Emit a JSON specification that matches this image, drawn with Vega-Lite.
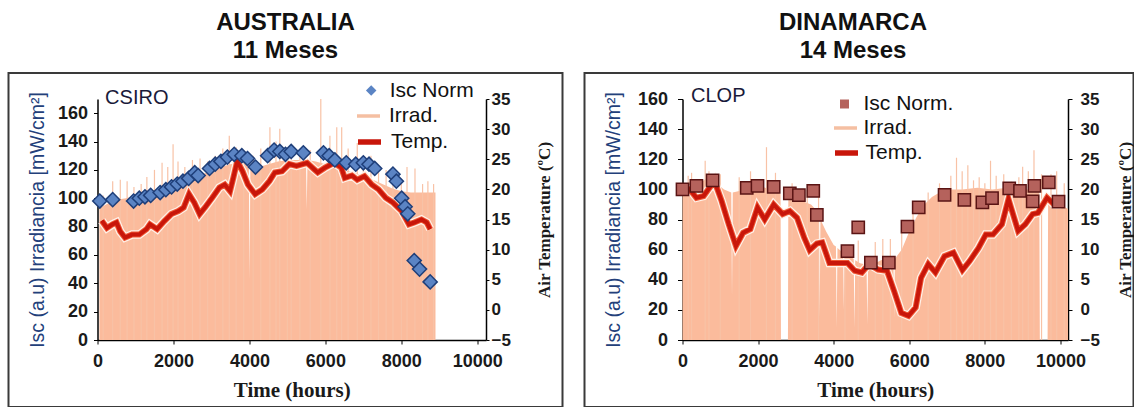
{
"$schema": "https://vega.github.io/schema/vega-lite/v6.json",
"background": "white",
"padding": {"left": 7.5, "top": 10, "right": 0, "bottom": 0},
"spacing": 20,
"config": {"view": {"stroke": "#3a3a3a", "strokeWidth": 2}, "legend": {"padding": 0, "labelFont": "Liberation Sans", "labelFontSize": 21, "labelColor": "#111111", "title": null}},
"resolve": {"scale": {"color": "independent", "stroke": "independent", "shape": "independent", "x": "independent", "y": "independent"}, "legend": {"color": "independent", "stroke": "independent", "shape": "independent"}},
"datasets": {
"aus_irr": [{"h":50,"v":93},{"h":250,"v":96},{"h":500,"v":99},{"h":750,"v":100},{"h":1000,"v":102},{"h":1250,"v":104},{"h":1500,"v":106},{"h":1750,"v":108},{"h":2000,"v":110},{"h":2250,"v":113},{"h":2500,"v":115},{"h":2750,"v":117},{"h":3000,"v":119},{"h":3250,"v":122},{"h":3500,"v":124},{"h":3750,"v":125},{"h":3985,"v":124},{"h":4005,"v":42},{"h":4025,"v":122},{"h":4250,"v":122},{"h":4500,"v":124},{"h":4750,"v":126},{"h":5000,"v":127},{"h":5250,"v":127},{"h":5490,"v":127},{"h":5510,"v":92},{"h":5530,"v":127},{"h":5750,"v":126},{"h":6000,"v":124},{"h":6250,"v":122},{"h":6500,"v":120},{"h":6750,"v":118},{"h":7000,"v":116},{"h":7250,"v":113},{"h":7500,"v":110},{"h":7750,"v":107},{"h":8000,"v":105},{"h":8250,"v":104},{"h":8500,"v":104},{"h":8750,"v":104},{"h":8900,"v":104}],
"aus_spk": [{"h":150,"v":102},{"h":400,"v":112},{"h":600,"v":113},{"h":780,"v":112},{"h":960,"v":108},{"h":1150,"v":110},{"h":1300,"v":115},{"h":1500,"v":120},{"h":1700,"v":125},{"h":1850,"v":122},{"h":1990,"v":138},{"h":2120,"v":126},{"h":2300,"v":122},{"h":2500,"v":127},{"h":2700,"v":128},{"h":2900,"v":126},{"h":3100,"v":130},{"h":3300,"v":135},{"h":3470,"v":144},{"h":3650,"v":136},{"h":3850,"v":132},{"h":4100,"v":130},{"h":4300,"v":135},{"h":4540,"v":150},{"h":4700,"v":140},{"h":4800,"v":149},{"h":5000,"v":135},{"h":5100,"v":138},{"h":5330,"v":132},{"h":5600,"v":134},{"h":5880,"v":170},{"h":6120,"v":144},{"h":6300,"v":150},{"h":6430,"v":150},{"h":6600,"v":135},{"h":6840,"v":139},{"h":7000,"v":128},{"h":7200,"v":130},{"h":7400,"v":122},{"h":7600,"v":120},{"h":7780,"v":117},{"h":8000,"v":114},{"h":8150,"v":122},{"h":8360,"v":121},{"h":8560,"v":110},{"h":8700,"v":112},{"h":8850,"v":110}],
"aus_temp": [{"h":113,"t":14.8},{"h":248,"t":13.6},{"h":395,"t":14.2},{"h":500,"t":14.5},{"h":600,"t":13.0},{"h":723,"t":12.0},{"h":910,"t":12.5},{"h":1100,"t":12.5},{"h":1290,"t":13.4},{"h":1380,"t":14.2},{"h":1570,"t":13.4},{"h":1760,"t":14.75},{"h":1945,"t":15.9},{"h":2130,"t":16.4},{"h":2270,"t":17.0},{"h":2410,"t":19.2},{"h":2550,"t":17.8},{"h":2690,"t":15.9},{"h":2830,"t":17.0},{"h":3020,"t":18.6},{"h":3210,"t":20.3},{"h":3350,"t":20.8},{"h":3490,"t":19.7},{"h":3580,"t":22.0},{"h":3680,"t":24.7},{"h":3820,"t":23.0},{"h":3960,"t":20.8},{"h":4150,"t":19.2},{"h":4340,"t":20.0},{"h":4530,"t":21.4},{"h":4670,"t":22.8},{"h":4860,"t":23.0},{"h":5050,"t":24.2},{"h":5240,"t":23.9},{"h":5520,"t":24.4},{"h":5710,"t":23.3},{"h":5800,"t":22.8},{"h":5990,"t":23.6},{"h":6230,"t":24.4},{"h":6420,"t":23.6},{"h":6510,"t":21.9},{"h":6700,"t":22.3},{"h":6840,"t":21.6},{"h":7030,"t":22.2},{"h":7220,"t":20.8},{"h":7400,"t":20.0},{"h":7590,"t":18.6},{"h":7780,"t":17.8},{"h":8010,"t":16.4},{"h":8200,"t":14.2},{"h":8340,"t":14.5},{"h":8530,"t":15.0},{"h":8670,"t":14.5},{"h":8760,"t":13.4}],
"aus_isc": [{"h":60,"v":98},{"h":400,"v":99},{"h":950,"v":98},{"h":1100,"v":100},{"h":1250,"v":101},{"h":1400,"v":102},{"h":1650,"v":104},{"h":1800,"v":106},{"h":1950,"v":108},{"h":2100,"v":110},{"h":2250,"v":112},{"h":2400,"v":114},{"h":2560,"v":118},{"h":2650,"v":116},{"h":2950,"v":121},{"h":3100,"v":124},{"h":3250,"v":126},{"h":3420,"v":129},{"h":3600,"v":131},{"h":3800,"v":130},{"h":3950,"v":128},{"h":4160,"v":122},{"h":4480,"v":130},{"h":4650,"v":134},{"h":4800,"v":133},{"h":4950,"v":131},{"h":5100,"v":133},{"h":5420,"v":132},{"h":5950,"v":132},{"h":6100,"v":130},{"h":6250,"v":127},{"h":6550,"v":125},{"h":6800,"v":124},{"h":7000,"v":125},{"h":7150,"v":124},{"h":7300,"v":121},{"h":7780,"v":117},{"h":7870,"v":112},{"h":8010,"v":100},{"h":8100,"v":94},{"h":8170,"v":89},{"h":8340,"v":56},{"h":8480,"v":50},{"h":8760,"v":41}],
"aus_lbl": [{"h":200,"v":171,"label":"CSIRO"}],
"dk_irr": [{"h":0,"v":100},{"h":150,"v":104},{"h":300,"v":106},{"h":500,"v":105},{"h":700,"v":108},{"h":900,"v":104},{"h":1100,"v":100},{"h":1290,"v":98},{"h":1310,"v":28},{"h":1330,"v":98},{"h":1500,"v":99},{"h":1700,"v":100},{"h":1900,"v":101},{"h":2100,"v":102},{"h":2300,"v":100},{"h":2500,"v":98},{"h":2595,"v":97},{"h":2605,"v":0},{"h":2790,"v":0},{"h":2800,"v":95},{"h":3000,"v":94},{"h":3200,"v":92},{"h":3400,"v":90},{"h":3550,"v":86},{"h":3610,"v":82},{"h":3630,"v":15},{"h":3650,"v":80},{"h":3800,"v":72},{"h":4000,"v":63},{"h":4060,"v":62},{"h":4080,"v":8},{"h":4100,"v":61},{"h":4250,"v":58},{"h":4270,"v":20},{"h":4290,"v":57},{"h":4400,"v":56},{"h":4530,"v":54},{"h":4550,"v":8},{"h":4570,"v":53},{"h":4700,"v":51},{"h":4870,"v":50},{"h":4890,"v":10},{"h":4910,"v":50},{"h":5100,"v":51},{"h":5250,"v":53},{"h":5400,"v":54},{"h":5580,"v":52},{"h":5600,"v":15},{"h":5620,"v":54},{"h":5800,"v":60},{"h":6000,"v":72},{"h":6200,"v":82},{"h":6400,"v":90},{"h":6600,"v":95},{"h":6800,"v":98},{"h":7000,"v":100},{"h":7400,"v":100},{"h":7800,"v":101},{"h":8200,"v":100},{"h":8600,"v":101},{"h":9000,"v":100},{"h":9440,"v":100},{"h":9455,"v":0},{"h":9660,"v":0},{"h":9675,"v":97},{"h":9800,"v":95},{"h":10000,"v":90},{"h":10200,"v":87}],
"dk_spk": [{"h":150,"v":109},{"h":240,"v":111},{"h":600,"v":119},{"h":700,"v":112},{"h":1000,"v":110},{"h":1500,"v":108},{"h":1800,"v":112},{"h":2222,"v":128},{"h":2460,"v":111},{"h":2900,"v":104},{"h":3300,"v":100},{"h":3600,"v":95},{"h":4300,"v":62},{"h":4650,"v":66},{"h":5100,"v":65},{"h":5300,"v":67},{"h":5500,"v":67},{"h":5800,"v":73},{"h":6100,"v":88},{"h":6500,"v":98},{"h":6800,"v":104},{"h":7100,"v":109},{"h":7250,"v":121},{"h":7400,"v":112},{"h":7550,"v":116},{"h":7700,"v":106},{"h":7850,"v":108},{"h":8000,"v":104},{"h":8150,"v":119},{"h":8300,"v":109},{"h":8500,"v":110},{"h":8700,"v":105},{"h":8900,"v":108},{"h":9000,"v":115},{"h":9150,"v":112},{"h":9300,"v":126},{"h":9500,"v":110},{"h":9750,"v":110},{"h":9900,"v":112},{"h":10100,"v":104}],
"dk_temp": [{"h":0,"t":20.3},{"h":190,"t":20.0},{"h":368,"t":18.6},{"h":558,"t":18.9},{"h":843,"t":21.4},{"h":1034,"t":18.1},{"h":1224,"t":14.2},{"h":1414,"t":10.6},{"h":1604,"t":12.8},{"h":1795,"t":13.4},{"h":1985,"t":17.0},{"h":2175,"t":15.0},{"h":2413,"t":17.5},{"h":2650,"t":15.9},{"h":2840,"t":16.4},{"h":3030,"t":15.3},{"h":3220,"t":12.0},{"h":3365,"t":9.9},{"h":3555,"t":11.0},{"h":3697,"t":11.2},{"h":3887,"t":7.8},{"h":4125,"t":7.8},{"h":4365,"t":7.8},{"h":4555,"t":6.5},{"h":4745,"t":6.2},{"h":4935,"t":7.6},{"h":5173,"t":6.7},{"h":5410,"t":6.5},{"h":5600,"t":3.1},{"h":5790,"t":-0.5},{"h":5980,"t":-1.0},{"h":6170,"t":0.4},{"h":6312,"t":5.3},{"h":6502,"t":7.6},{"h":6692,"t":6.2},{"h":6930,"t":8.9},{"h":7170,"t":9.5},{"h":7407,"t":6.6},{"h":7597,"t":8.1},{"h":7834,"t":10.3},{"h":8025,"t":12.5},{"h":8215,"t":12.5},{"h":8452,"t":14.2},{"h":8625,"t":18.4},{"h":8880,"t":13.1},{"h":9070,"t":14.2},{"h":9265,"t":15.9},{"h":9405,"t":16.1},{"h":9645,"t":18.6},{"h":9835,"t":17.5},{"h":10025,"t":17.5}],
"dk_isc": [{"h":0,"v":100},{"h":368,"v":102.4},{"h":797,"v":106},{"h":1700,"v":101},{"h":1985,"v":102.4},{"h":2413,"v":101.7},{"h":2840,"v":97.3},{"h":3080,"v":96.2},{"h":3460,"v":99},{"h":3555,"v":83},{"h":4365,"v":59},{"h":4650,"v":74.7},{"h":4984,"v":51.4},{"h":5460,"v":51.4},{"h":5952,"v":75.3},{"h":6250,"v":88},{"h":6934,"v":96.4},{"h":7458,"v":93},{"h":7935,"v":91.3},{"h":8190,"v":94.2},{"h":8645,"v":100.6},{"h":8930,"v":99},{"h":9265,"v":92},{"h":9312,"v":102.4},{"h":9693,"v":104.6},{"h":9950,"v":91.8}],
"dk_lbl": [{"h":225,"v":162,"label":"CLOP"}]
},
"hconcat": [
{
"width": 554, "height": 334,
"title": {"text": ["AUSTRALIA", "11 Meses"], "font": "Liberation Sans", "fontSize": 24, "fontWeight": "bold", "lineHeight": 28, "anchor": "middle", "frame": "group", "baseline": "alphabetic", "offset": -9, "color": "#111111"},
"encoding": {"x": {"field": "h", "type": "quantitative", "scale": {"domain": [0, 10230], "range": [89, 477.5], "nice": false, "zero": false},
  "axis": {"values": [0, 2000, 4000, 6000, 8000, 10000], "format": "d", "offset": -67, "grid": false, "title": "Time (hours)", "titleFont": "Liberation Serif", "titleFontSize": 21, "titleFontWeight": "bold", "titleColor": "#1a1a1a", "titlePadding": 9, "labelFont": "Liberation Sans", "labelFontSize": 18, "labelFontWeight": "bold", "labelColor": "#1a1a1a", "tickSize": 4, "labelPadding": 8, "domainColor": "#000000", "domainWidth": 1.5, "tickColor": "#000000", "labelFlush": false, "labelOverlap": false}}},
"layer": [
 {"encoding": {"y": {"field": "v", "type": "quantitative", "scale": {"domain": [0, 170], "range": [267, 26], "nice": false, "zero": false},
   "axis": {"orient": "left", "offset": -89, "values": [0, 20, 40, 60, 80, 100, 120, 140, 160], "grid": false, "title": "Isc (a.u) Irradiancia [mW/cm²]", "titleFont": "Liberation Sans", "titleFontSize": 19.5, "titleFontWeight": "normal", "titleColor": "#23407a", "titlePadding": 10, "labelFont": "Liberation Sans", "labelFontSize": 18, "labelFontWeight": "bold", "labelColor": "#1a1a1a", "tickSize": 4, "labelPadding": 6, "domainColor": "#000000", "domainWidth": 1.5, "tickColor": "#000000"}}},
  "layer": [
   {"data": {"name": "aus_irr"}, "mark": {"type": "area", "opacity": 1},
    "encoding": {"color": {"datum": "Irrad.", "type": "nominal", "scale": {"domain": ["Irrad."], "range": ["#fbbb9c"]},
      "legend": {"orient": "none", "legendX": 346.5, "legendY": 29.5, "symbolType": "stroke", "symbolSize": 529, "symbolStrokeColor": "#f5bfa2", "symbolStrokeWidth": 3.5, "labelOffset": 7}}}},
   {"data": {"name": "aus_spk"}, "mark": {"type": "rule", "color": "#f8c2a6", "strokeWidth": 1.2}, "encoding": {"y2": {"datum": 0}}}
  ]},
 {"encoding": {"y": {"field": "t", "type": "quantitative", "scale": {"domain": [-5, 35], "range": [267, 26], "nice": false, "zero": false},
   "axis": {"orient": "right", "offset": -76.5, "values": [-5, 0, 5, 10, 15, 20, 25, 30, 35], "grid": false, "title": "Air Temperature (ºC)", "titleAngle": 270, "titleBaseline": "top", "titleFont": "Liberation Serif", "titleFontSize": 17, "titleFontWeight": "bold", "titleColor": "#1a1a1a", "titlePadding": 26, "labelFont": "Liberation Sans", "labelFontSize": 17, "labelFontWeight": "bold", "labelColor": "#1a1a1a", "tickSize": 3, "labelPadding": 2, "domainColor": "#000000", "domainWidth": 1.5, "tickColor": "#000000"}}},
  "layer": [
   {"data": {"name": "aus_temp"}, "mark": {"type": "line", "color": "#fff1e8", "strokeWidth": 8.5}, "encoding": {}},
   {"data": {"name": "aus_temp"}, "mark": {"type": "line", "color": "#ee5533", "strokeWidth": 6}, "encoding": {}},
   {"data": {"name": "aus_temp"}, "mark": {"type": "line", "strokeWidth": 4},
    "encoding": {"stroke": {"datum": "Temp.", "type": "nominal", "scale": {"domain": ["Temp."], "range": ["#c8160a"]},
      "legend": {"orient": "none", "legendX": 346.5, "legendY": 54.5, "symbolType": "stroke", "symbolSize": 529, "symbolStrokeWidth": 5.5, "labelOffset": 7}}}}
  ]},
 {"encoding": {"y": {"field": "v", "type": "quantitative", "scale": {"domain": [0, 170], "range": [267, 26], "nice": false, "zero": false}, "axis": null}},
  "layer": [
   {"data": {"name": "aus_isc"}, "mark": {"type": "point", "filled": true, "color": "#5b84c4", "size": 200, "stroke": "#1f3f7a", "strokeWidth": 1.5, "opacity": 1},
    "encoding": {"shape": {"datum": "Isc Norm", "type": "nominal", "scale": {"domain": ["Isc Norm"], "range": ["diamond"]},
      "legend": {"orient": "none", "legendX": 352.2, "legendY": 7, "symbolSize": 110, "symbolFillColor": "#3a62a4", "symbolStrokeColor": "#1d3a72", "symbolStrokeWidth": 1.5, "labelOffset": 8}}}},
   {"data": {"name": "aus_lbl"}, "mark": {"type": "text", "font": "Liberation Sans", "fontSize": 20, "align": "left", "baseline": "middle", "color": "#1a1a3a"}, "encoding": {"text": {"field": "label"}}}
  ]}
],
"resolve": {"scale": {"y": "independent"}, "axis": {"y": "independent"}}
},
{
"width": 549, "height": 334,
"title": {"text": ["DINAMARCA", "14 Meses"], "font": "Liberation Sans", "fontSize": 24, "fontWeight": "bold", "lineHeight": 28, "anchor": "middle", "frame": "group", "baseline": "alphabetic", "offset": -9, "dx": -6, "color": "#111111"},
"encoding": {"x": {"field": "h", "type": "quantitative", "scale": {"domain": [0, 10200], "range": [98, 483.5], "nice": false, "zero": false},
  "axis": {"values": [0, 2000, 4000, 6000, 8000, 10000], "format": "d", "offset": -67, "grid": false, "title": "Time (hours)", "titleFont": "Liberation Serif", "titleFontSize": 21, "titleFontWeight": "bold", "titleColor": "#1a1a1a", "titlePadding": 9, "labelFont": "Liberation Sans", "labelFontSize": 18, "labelFontWeight": "bold", "labelColor": "#1a1a1a", "tickSize": 4, "labelPadding": 8, "domainColor": "#000000", "domainWidth": 1.5, "tickColor": "#000000", "labelFlush": false, "labelOverlap": false}}},
"layer": [
 {"encoding": {"y": {"field": "v", "type": "quantitative", "scale": {"domain": [0, 160], "range": [267, 26], "nice": false, "zero": false},
   "axis": {"orient": "left", "offset": -98, "values": [0, 20, 40, 60, 80, 100, 120, 140, 160], "grid": false, "title": "Isc (a.u) Irradiancia [mW/cm²]", "titleFont": "Liberation Sans", "titleFontSize": 19.5, "titleFontWeight": "normal", "titleColor": "#23407a", "titlePadding": 14, "labelFont": "Liberation Sans", "labelFontSize": 18, "labelFontWeight": "bold", "labelColor": "#1a1a1a", "tickSize": 5, "labelPadding": 10, "domainColor": "#000000", "domainWidth": 1.5, "tickColor": "#000000"}}},
  "layer": [
   {"data": {"name": "dk_irr"}, "mark": {"type": "area", "opacity": 1},
    "encoding": {"color": {"datum": "Irrad.", "type": "nominal", "scale": {"domain": ["Irrad."], "range": ["#fbbb9c"]},
      "legend": {"orient": "none", "legendX": 247.5, "legendY": 41.5, "symbolType": "stroke", "symbolSize": 529, "symbolStrokeColor": "#f5bfa2", "symbolStrokeWidth": 3.5, "labelOffset": 4.5}}}},
   {"data": {"name": "dk_spk"}, "mark": {"type": "rule", "color": "#f8c2a6", "strokeWidth": 1.2}, "encoding": {"y2": {"datum": 0}}}
  ]},
 {"encoding": {"y": {"field": "t", "type": "quantitative", "scale": {"domain": [-5, 35], "range": [267, 26], "nice": false, "zero": false},
   "axis": {"orient": "right", "offset": -65.5, "values": [-5, 0, 5, 10, 15, 20, 25, 30, 35], "grid": false, "title": "Air Temperature (ºC)", "titleAngle": 270, "titleBaseline": "top", "titleFont": "Liberation Serif", "titleFontSize": 17, "titleFontWeight": "bold", "titleColor": "#1a1a1a", "titlePadding": 18, "labelFont": "Liberation Sans", "labelFontSize": 17, "labelFontWeight": "bold", "labelColor": "#1a1a1a", "tickSize": 4, "labelPadding": 8, "domainColor": "#000000", "domainWidth": 1.5, "tickColor": "#000000"}}},
  "layer": [
   {"data": {"name": "dk_temp"}, "mark": {"type": "line", "color": "#fff1e8", "strokeWidth": 8.5}, "encoding": {}},
   {"data": {"name": "dk_temp"}, "mark": {"type": "line", "color": "#ee5533", "strokeWidth": 6}, "encoding": {}},
   {"data": {"name": "dk_temp"}, "mark": {"type": "line", "strokeWidth": 4},
    "encoding": {"stroke": {"datum": "Temp.", "type": "nominal", "scale": {"domain": ["Temp."], "range": ["#c8160a"]},
      "legend": {"orient": "none", "legendX": 247.5, "legendY": 65.5, "symbolType": "stroke", "symbolSize": 529, "symbolStrokeWidth": 5.5, "labelOffset": 4.5}}}}
  ]},
 {"encoding": {"y": {"field": "v", "type": "quantitative", "scale": {"domain": [0, 160], "range": [267, 26], "nice": false, "zero": false}, "axis": null}},
  "layer": [
   {"data": {"name": "dk_isc"}, "mark": {"type": "point", "filled": true, "color": "#b5625c", "size": 150, "stroke": "#5a1414", "strokeWidth": 1.5, "opacity": 1},
    "encoding": {"shape": {"datum": "Isc Norm.", "type": "nominal", "scale": {"domain": ["Isc Norm."], "range": ["square"]},
      "legend": {"orient": "none", "legendX": 249.5, "legendY": 20.5, "symbolSize": 81, "symbolFillColor": "#b5625c", "symbolStrokeColor": "#5a1414", "symbolStrokeWidth": 1.5, "labelOffset": 8.5}}}},
   {"data": {"name": "dk_lbl"}, "mark": {"type": "text", "font": "Liberation Sans", "fontSize": 20, "align": "left", "baseline": "middle", "color": "#1a1a3a"}, "encoding": {"text": {"field": "label"}}}
  ]}
],
"resolve": {"scale": {"y": "independent"}, "axis": {"y": "independent"}}
}
]
}
